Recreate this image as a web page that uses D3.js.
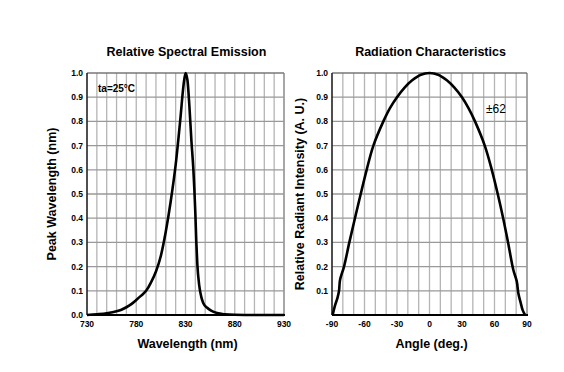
<!DOCTYPE html>
<html>
<head>
<meta charset="utf-8">
<script src="https://cdn.jsdelivr.net/npm/d3@7.9.0/dist/d3.min.js"></script>
<style>
  body { margin: 0; background: #fff; }
  svg { display: block; font-family: "Liberation Sans", Arial, sans-serif; }
  .tick-label { font-size: 8.5px; font-weight: bold; fill: #000; }
  .title { font-size: 12.5px; font-weight: bold; }
  .axis-title { font-size: 12.5px; font-weight: bold; }
</style>
</head>
<body>
<svg id="chart" width="564" height="372"></svg>
<script>
// spectral emission: wavelength (nm) vs relative intensity
const wavelength = [730, 740, 750, 760, 765, 770, 775, 780, 785, 790, 795, 800, 805, 810, 815, 820, 825, 828, 830, 832, 834, 836, 838, 840, 841, 842, 844, 846, 848, 852, 856, 862, 870, 880, 900, 930];
const emission   = [0, 0.003, 0.007, 0.015, 0.022, 0.032, 0.045, 0.062, 0.08, 0.1, 0.135, 0.18, 0.245, 0.345, 0.47, 0.62, 0.82, 0.95, 1.0, 0.97, 0.86, 0.72, 0.6, 0.42, 0.3, 0.21, 0.12, 0.075, 0.05, 0.03, 0.018, 0.008, 0.003, 0.001, 0, 0];

// radiation pattern: angle (deg) vs relative radiant intensity
const angle     = [-89.4, -87.2, -85, -83.5, -82.6, -78.9, -74, -68.8, -63.5, -58, -51.8, -42.6, -36.5, -30, -23, -16, -8, 0, 8, 16, 23, 30, 36, 42, 51, 57.5, 63, 68, 72.5, 77.4, 80.5, 82, 84.2, 86, 88.2];
const intensity = [0, 0.04, 0.07, 0.1, 0.145, 0.2, 0.3, 0.4, 0.5, 0.6, 0.7, 0.8, 0.855, 0.9, 0.94, 0.97, 0.993, 1.0, 0.993, 0.97, 0.94, 0.9, 0.855, 0.8, 0.7, 0.6, 0.5, 0.4, 0.3, 0.186, 0.14, 0.09, 0.05, 0.02, 0];

const yTicks = [0, 0.1, 0.2, 0.3, 0.4, 0.5, 0.6, 0.7, 0.8, 0.9, 1.0];
const nmTicks = [730, 780, 830, 880, 930];
const degTicks = [-90, -60, -30, 0, 30, 60, 90];

const svg = d3.select('#chart');

function drawPanel(opts) {
  const x = d3.scaleLinear().domain(opts.xDomain).range([opts.left, opts.right]);
  const y = d3.scaleLinear().domain([0, 1]).range([opts.bottom, opts.top]);
  const g = svg.append('g');

  // vertical grid
  g.selectAll('.vgrid')
    .data(d3.range(opts.xDomain[0] + opts.xStep, opts.xDomain[1] + 0.01, opts.xStep))
    .join('line')
    .attr('x1', (d) => x(d)).attr('x2', (d) => x(d))
    .attr('y1', opts.top).attr('y2', opts.bottom)
    .attr('stroke', (d) => (Math.abs(d - opts.xDomain[1]) < 0.01 ? '#777' : '#b5b5b5'))
    .attr('stroke-width', 1.3);

  // horizontal grid
  g.selectAll('.hgrid')
    .data(yTicks.slice(1))
    .join('line')
    .attr('x1', opts.left).attr('x2', opts.right)
    .attr('y1', (d) => y(d)).attr('y2', (d) => y(d))
    .attr('stroke', (d) => (d === 1 ? '#777' : '#999'))
    .attr('stroke-width', 1.3);

  // axes lines
  g.append('line')
    .attr('x1', opts.left).attr('x2', opts.left)
    .attr('y1', opts.top).attr('y2', opts.bottom)
    .attr('stroke', '#222').attr('stroke-width', 1.6);
  g.append('line')
    .attr('x1', opts.left).attr('x2', opts.right + 1)
    .attr('y1', opts.bottom).attr('y2', opts.bottom)
    .attr('stroke', '#000').attr('stroke-width', 2);

  // curve
  const line = d3.line()
    .x((d) => x(d[0]))
    .y((d) => y(d[1]))
    .curve(opts.curve);
  g.append('path')
    .datum(d3.zip(opts.xs, opts.ys))
    .attr('d', line)
    .attr('fill', 'none')
    .attr('stroke', '#000')
    .attr('stroke-width', 2.6)
    .attr('stroke-linejoin', 'round');

  // y tick labels
  g.selectAll('.ylab')
    .data(opts.yLabels)
    .join('text')
    .attr('class', 'tick-label')
    .attr('x', opts.left - 4)
    .attr('y', (d) => y(d) + 3)
    .attr('text-anchor', 'end')
    .text((d) => d.toFixed(1));

  // x tick labels
  g.selectAll('.xlab')
    .data(opts.xTicks)
    .join('text')
    .attr('class', 'tick-label')
    .attr('x', (d) => x(d))
    .attr('y', opts.bottom + 12)
    .attr('text-anchor', 'middle')
    .text((d) => d);

  // titles
  const cx = (opts.left + opts.right) / 2;
  g.append('text').attr('class', 'title')
    .attr('x', cx + 1).attr('y', 56)
    .attr('text-anchor', 'middle').text(opts.title);
  g.append('text').attr('class', 'axis-title')
    .attr('x', cx + 2).attr('y', 348)
    .attr('text-anchor', 'middle').text(opts.xTitle);
  g.append('text').attr('class', 'axis-title')
    .attr('transform', `translate(${opts.yTitleX},${(opts.top + opts.bottom) / 2}) rotate(-90)`)
    .attr('text-anchor', 'middle').text(opts.yTitle);

  return { x, y, g };
}

const left = drawPanel({
  left: 87, right: 284, top: 73, bottom: 315,
  xDomain: [730, 930], xStep: 10, xTicks: nmTicks,
  xs: wavelength, ys: emission, curve: d3.curveMonotoneX,
  yLabels: yTicks,
  title: 'Relative Spectral Emission',
  xTitle: 'Wavelength (nm)',
  yTitle: 'Peak Wavelength (nm)', yTitleX: 56
});

left.g.append('text')
  .attr('x', 98).attr('y', 92)
  .attr('font-size', '10px').attr('font-weight', 'bold')
  .text('ta=25°C');

const right = drawPanel({
  left: 332, right: 527, top: 73, bottom: 315,
  xDomain: [-90, 90], xStep: 10, xTicks: degTicks,
  xs: angle, ys: intensity, curve: d3.curveCatmullRom.alpha(0.5),
  yLabels: yTicks.slice(1),
  title: 'Radiation Characteristics',
  xTitle: 'Angle (deg.)',
  yTitle: 'Relative Radiant Intensity (A. U.)', yTitleX: 304
});

right.g.append('text')
  .attr('x', 486).attr('y', 113)
  .attr('font-size', '12px')
  .text('±62');
</script>
</body>
</html>
